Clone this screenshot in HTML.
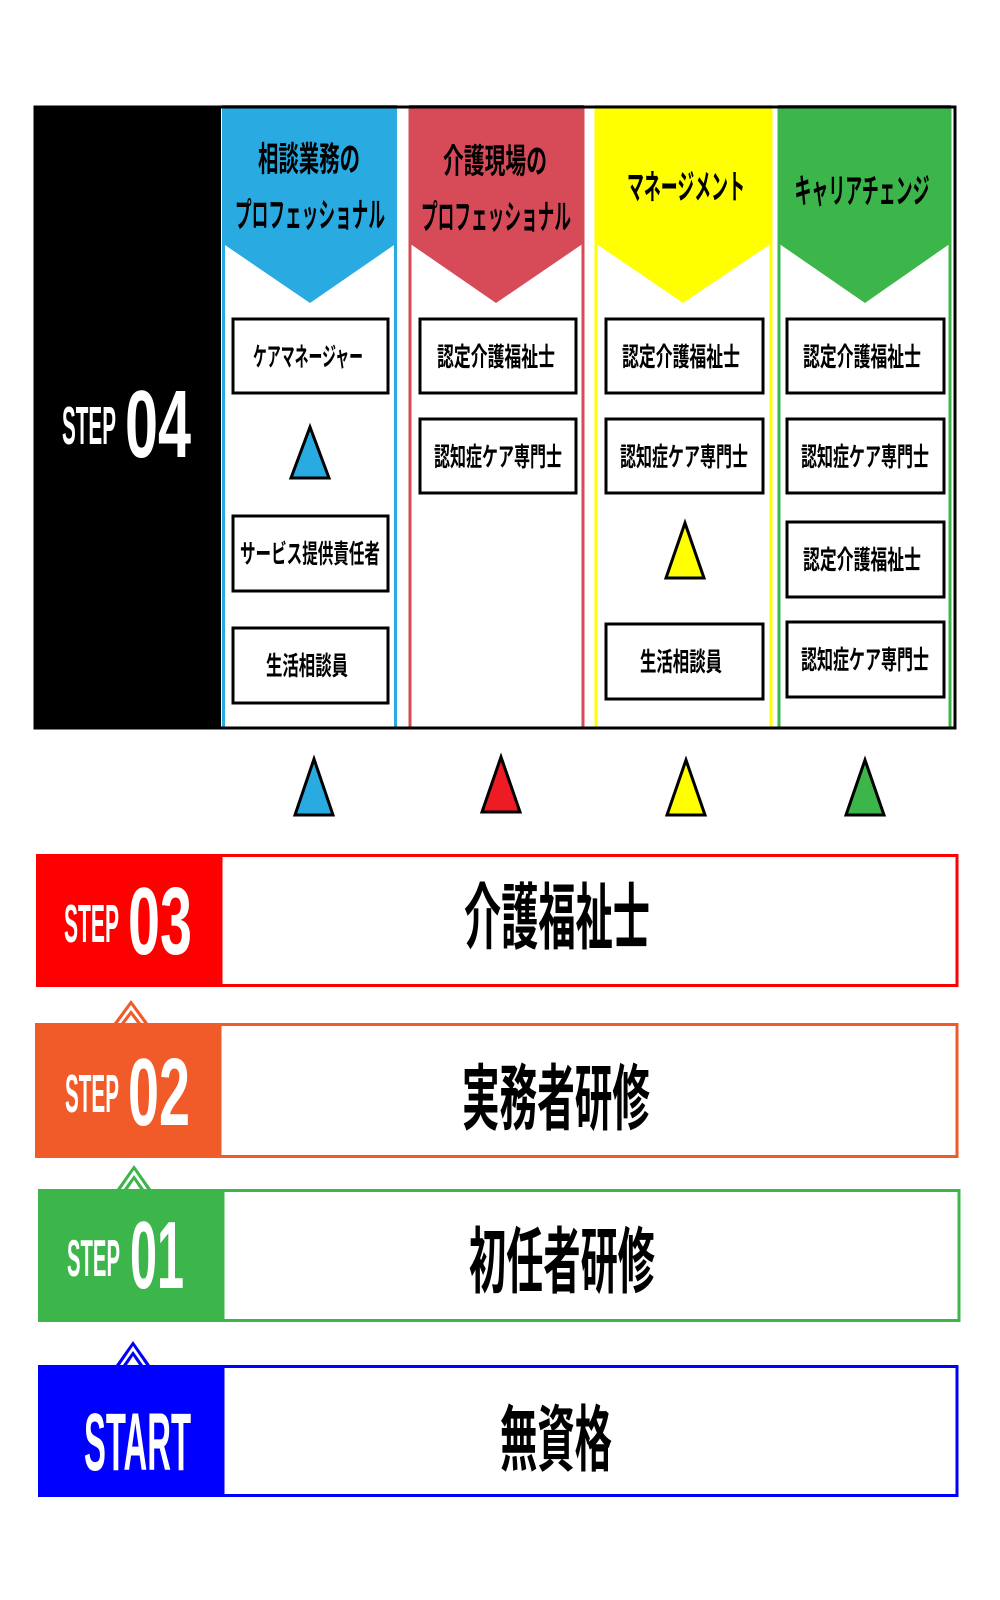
<!DOCTYPE html>
<html><head><meta charset="utf-8"><style>
html,body{margin:0;padding:0;background:#fff}
svg{display:block}
.j{font-family:"Liberation Sans","Noto Sans CJK JP",sans-serif;font-weight:700}
.s{font-family:"Liberation Sans",sans-serif;font-weight:700;fill:#fff}
</style></head><body>
<svg width="1000" height="1600" viewBox="0 0 1000 1600" xmlns="http://www.w3.org/2000/svg">
<rect x="35" y="107" width="186" height="621" fill="#000"/>
<text class="s" x="62" y="444" font-size="54" textLength="54" lengthAdjust="spacingAndGlyphs">STEP</text>
<text class="s" x="125" y="457" font-size="96" textLength="66" lengthAdjust="spacingAndGlyphs">04</text>

<g stroke-width="3" fill="none">
<rect x="223.5" y="107" width="172" height="621" stroke="#29abe2"/>
<rect x="410" y="107" width="173" height="621" stroke="#d64b57"/>
<rect x="596" y="107" width="175" height="621" stroke="#ffff00"/>
<rect x="779" y="107" width="171" height="621" stroke="#3cb54a"/>
</g>
<polygon points="222,105 397,105 397,243 310,303 222,243" fill="#29abe2"/>
<polygon points="409,105 584,105 584,243 496,303 409,243" fill="#d64b57"/>
<polygon points="595,105 772,105 772,243 683,303 595,243" fill="#ffff00"/>
<polygon points="778,105 951,105 951,243 865,303 778,243" fill="#3cb54a"/>
<rect x="35" y="107" width="920" height="621" fill="none" stroke="#000" stroke-width="3"/>

<g class="j" font-size="34" text-anchor="middle" dominant-baseline="central" fill="#000">
<text x="309" y="160" textLength="102" lengthAdjust="spacingAndGlyphs">相談業務の</text>
<text x="310" y="216" textLength="150" lengthAdjust="spacingAndGlyphs">プロフェッショナル</text>
<text x="495" y="162" textLength="104" lengthAdjust="spacingAndGlyphs">介護現場の</text>
<text x="496" y="218" textLength="150" lengthAdjust="spacingAndGlyphs">プロフェッショナル</text>
<text x="686" y="188" textLength="118" lengthAdjust="spacingAndGlyphs">マネージメント</text>
<text x="862" y="192" textLength="135" lengthAdjust="spacingAndGlyphs">キャリアチェンジ</text>
</g>

<g fill="#fff" stroke="#000" stroke-width="3">
<rect x="233" y="319" width="155" height="74"/>
<rect x="233" y="516" width="155" height="75"/>
<rect x="233" y="628" width="155" height="75"/>
<rect x="420" y="319" width="156" height="74"/>
<rect x="420" y="419" width="156" height="74"/>
<rect x="606" y="319" width="157" height="74"/>
<rect x="606" y="419" width="157" height="74"/>
<rect x="606" y="624" width="157" height="75"/>
<rect x="787" y="319" width="157" height="74"/>
<rect x="787" y="419" width="157" height="74"/>
<rect x="787" y="522" width="157" height="75"/>
<rect x="787" y="622" width="157" height="75"/>
</g>
<g class="j" font-size="26" text-anchor="middle" dominant-baseline="central" fill="#000">
<text x="308" y="357" textLength="110" lengthAdjust="spacingAndGlyphs">ケアマネージャー</text>
<text x="310" y="554" textLength="140" lengthAdjust="spacingAndGlyphs">サービス提供責任者</text>
<text x="307" y="666" textLength="82" lengthAdjust="spacingAndGlyphs">生活相談員</text>
<text x="496" y="357" textLength="118" lengthAdjust="spacingAndGlyphs">認定介護福祉士</text>
<text x="498" y="457" textLength="128" lengthAdjust="spacingAndGlyphs">認知症ケア専門士</text>
<text x="681" y="357" textLength="118" lengthAdjust="spacingAndGlyphs">認定介護福祉士</text>
<text x="684" y="457" textLength="128" lengthAdjust="spacingAndGlyphs">認知症ケア専門士</text>
<text x="681" y="662" textLength="82" lengthAdjust="spacingAndGlyphs">生活相談員</text>
<text x="862" y="357" textLength="118" lengthAdjust="spacingAndGlyphs">認定介護福祉士</text>
<text x="865" y="457" textLength="128" lengthAdjust="spacingAndGlyphs">認知症ケア専門士</text>
<text x="862" y="560" textLength="118" lengthAdjust="spacingAndGlyphs">認定介護福祉士</text>
<text x="865" y="660" textLength="128" lengthAdjust="spacingAndGlyphs">認知症ケア専門士</text>
</g>

<g stroke="#000" stroke-width="3" stroke-linejoin="miter">
<polygon points="310,427 329,478 291,478" fill="#29abe2"/>
<polygon points="685,523 704,578 666,578" fill="#ffff00"/>
<polygon points="314,759 333,815 295,815" fill="#29abe2"/>
<polygon points="501,757 520,812 482,812" fill="#ed1c24"/>
<polygon points="686,760 705,815 667,815" fill="#ffff00"/>
<polygon points="865,760 884,815 846,815" fill="#3cb54a"/>
</g>

<rect x="36" y="854" width="185" height="133" fill="#ff0000"/>
<rect x="221" y="855.5" width="736" height="130" fill="#fff" stroke="#ff0000" stroke-width="3"/>
<text class="s" x="64" y="942" font-size="54" textLength="55" lengthAdjust="spacingAndGlyphs">STEP</text>
<text class="s" x="128" y="954" font-size="96" textLength="64" lengthAdjust="spacingAndGlyphs">03</text>
<text class="j" x="557" y="919" font-size="72" text-anchor="middle" dominant-baseline="central" textLength="186" lengthAdjust="spacingAndGlyphs">介護福祉士</text>

<polygon points="114,1023 131,1000 148,1023" fill="#f15a29"/>
<polygon points="118,1023 131,1005 144,1023" fill="#fff"/>
<polygon points="121,1023 131,1010 141,1023" fill="#f15a29"/>
<polygon points="125,1023 131,1015 137,1023" fill="#fff"/>
<rect x="35" y="1023" width="185" height="135" fill="#f15a29"/>
<rect x="220" y="1024.5" width="737" height="132" fill="#fff" stroke="#f15a29" stroke-width="3"/>
<text class="s" x="65" y="1112" font-size="54" textLength="54" lengthAdjust="spacingAndGlyphs">STEP</text>
<text class="s" x="128" y="1125" font-size="96" textLength="62" lengthAdjust="spacingAndGlyphs">02</text>
<text class="j" x="556" y="1100" font-size="72" text-anchor="middle" dominant-baseline="central" textLength="188" lengthAdjust="spacingAndGlyphs">実務者研修</text>

<polygon points="117,1189 134,1165 151,1189" fill="#3cb54a"/>
<polygon points="121,1189 134,1170 147,1189" fill="#fff"/>
<polygon points="124,1189 134,1175 144,1189" fill="#3cb54a"/>
<polygon points="128,1189 134,1180 140,1189" fill="#fff"/>
<rect x="38" y="1189" width="185" height="133" fill="#3cb54a"/>
<rect x="223" y="1190.5" width="736" height="130" fill="#fff" stroke="#3cb54a" stroke-width="3"/>
<text class="s" x="67" y="1276" font-size="52" textLength="53" lengthAdjust="spacingAndGlyphs">STEP</text>
<text class="s" x="130" y="1288" font-size="96" textLength="54" lengthAdjust="spacingAndGlyphs">01</text>
<text class="j" x="562" y="1263" font-size="72" text-anchor="middle" dominant-baseline="central" textLength="186" lengthAdjust="spacingAndGlyphs">初任者研修</text>

<polygon points="116,1365 133,1341 150,1365" fill="#0000ff"/>
<polygon points="120,1365 133,1346 146,1365" fill="#fff"/>
<polygon points="123,1365 133,1351 143,1365" fill="#0000ff"/>
<polygon points="127,1365 133,1356 139,1365" fill="#fff"/>
<rect x="38" y="1365" width="185" height="132" fill="#0000ff"/>
<rect x="223" y="1366.5" width="734" height="129" fill="#fff" stroke="#0000ff" stroke-width="3"/>
<text class="s" x="84" y="1470" font-size="82" textLength="107" lengthAdjust="spacingAndGlyphs">START</text>
<text class="j" x="556" y="1441" font-size="72" text-anchor="middle" dominant-baseline="central" textLength="112" lengthAdjust="spacingAndGlyphs">無資格</text>
</svg>
</body></html>
